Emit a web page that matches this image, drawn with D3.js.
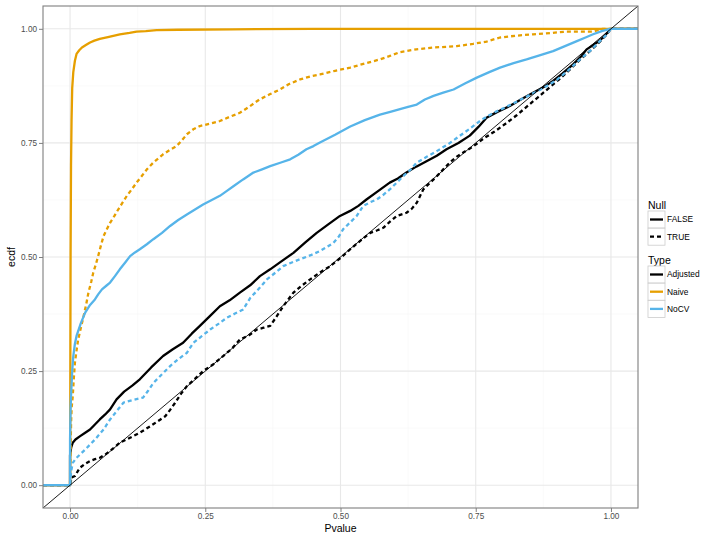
<!DOCTYPE html>
<html><head><meta charset="utf-8">
<script src="https://cdn.jsdelivr.net/npm/d3@7"></script>
<style>body{margin:0;background:#fff;font-family:"Liberation Sans",Arial,sans-serif;}</style>
</head><body>
<svg id="c" width="705" height="534"></svg>
<script>
// ---- data ----
const xTicks = [0, 0.25, 0.5, 0.75, 1];
const yTicks = [0, 0.25, 0.5, 0.75, 1];
const tickLabels = ["0.00", "0.25", "0.50", "0.75", "1.00"];
const nullLevels = ["FALSE", "TRUE"];
const typeLevels = ["Adjusted", "Naive", "NoCV"];

const adjustedFalse = [[0,0],[0,0.066],[0.002,0.082],[0.005,0.093],[0.01,0.1],[0.018,0.107],[0.028,0.115],[0.037,0.122],[0.046,0.133],[0.055,0.144],[0.065,0.155],[0.074,0.166],[0.086,0.188],[0.1,0.205],[0.115,0.218],[0.129,0.232],[0.15,0.258],[0.172,0.283],[0.19,0.298],[0.209,0.312],[0.225,0.332],[0.24,0.349],[0.258,0.37],[0.277,0.392],[0.295,0.405],[0.314,0.422],[0.333,0.438],[0.351,0.458],[0.37,0.473],[0.39,0.49],[0.413,0.509],[0.435,0.532],[0.456,0.553],[0.478,0.572],[0.499,0.59],[0.518,0.601],[0.533,0.612],[0.548,0.626],[0.57,0.645],[0.591,0.663],[0.606,0.672],[0.622,0.685],[0.64,0.698],[0.659,0.71],[0.678,0.722],[0.696,0.736],[0.718,0.75],[0.739,0.766],[0.755,0.785],[0.77,0.805],[0.79,0.818],[0.813,0.831],[0.835,0.846],[0.856,0.86],[0.875,0.872],[0.893,0.886],[0.91,0.902],[0.93,0.922],[0.945,0.94],[0.955,0.955],[0.968,0.965],[0.98,0.975],[0.99,0.987],[1,1]];

const adjustedTrue = [[0,0],[0.003,0.017],[0.009,0.02],[0.018,0.038],[0.028,0.047],[0.037,0.053],[0.046,0.057],[0.055,0.06],[0.065,0.067],[0.074,0.075],[0.083,0.084],[0.092,0.093],[0.111,0.104],[0.129,0.115],[0.148,0.129],[0.162,0.14],[0.176,0.151],[0.185,0.165],[0.194,0.18],[0.205,0.2],[0.216,0.217],[0.23,0.232],[0.246,0.25],[0.265,0.265],[0.283,0.283],[0.3,0.3],[0.314,0.319],[0.333,0.33],[0.345,0.341],[0.358,0.345],[0.37,0.349],[0.382,0.37],[0.394,0.392],[0.413,0.422],[0.428,0.437],[0.444,0.451],[0.462,0.466],[0.481,0.48],[0.5,0.498],[0.518,0.517],[0.537,0.536],[0.555,0.553],[0.567,0.558],[0.579,0.564],[0.592,0.578],[0.604,0.59],[0.622,0.597],[0.632,0.606],[0.641,0.619],[0.653,0.648],[0.665,0.662],[0.678,0.677],[0.69,0.692],[0.702,0.707],[0.715,0.72],[0.727,0.729],[0.745,0.742],[0.765,0.76],[0.785,0.775],[0.805,0.792],[0.825,0.81],[0.845,0.83],[0.865,0.85],[0.887,0.872],[0.905,0.89],[0.925,0.912],[0.945,0.935],[0.962,0.952],[0.978,0.97],[0.99,0.985],[1,1]];

const naiveFalse = [[0,0],[0.0003,0.1],[0.0006,0.3],[0.001,0.5],[0.0018,0.7],[0.0028,0.8],[0.004,0.87],[0.006,0.905],[0.009,0.93],[0.012,0.945],[0.017,0.953],[0.022,0.959],[0.03,0.965],[0.037,0.97],[0.045,0.974],[0.055,0.978],[0.07,0.982],[0.092,0.988],[0.11,0.991],[0.123,0.994],[0.14,0.995],[0.16,0.997],[0.2,0.998],[0.3,0.999],[0.45,1]];

const naiveTrue = [[0,0],[0.001,0.08],[0.002,0.14],[0.003,0.17],[0.005,0.195],[0.007,0.235],[0.009,0.268],[0.012,0.295],[0.015,0.319],[0.02,0.345],[0.025,0.37],[0.03,0.397],[0.034,0.422],[0.039,0.445],[0.043,0.466],[0.048,0.485],[0.052,0.502],[0.057,0.525],[0.062,0.546],[0.068,0.561],[0.074,0.575],[0.082,0.59],[0.089,0.604],[0.097,0.619],[0.105,0.634],[0.114,0.648],[0.123,0.663],[0.133,0.678],[0.142,0.692],[0.154,0.707],[0.163,0.716],[0.172,0.725],[0.185,0.735],[0.197,0.743],[0.207,0.756],[0.216,0.769],[0.228,0.78],[0.24,0.787],[0.258,0.792],[0.277,0.798],[0.295,0.807],[0.314,0.816],[0.332,0.83],[0.35,0.845],[0.37,0.857],[0.388,0.867],[0.405,0.879],[0.425,0.889],[0.445,0.896],[0.462,0.9],[0.49,0.908],[0.518,0.915],[0.545,0.924],[0.573,0.933],[0.59,0.94],[0.61,0.949],[0.64,0.955],[0.672,0.959],[0.715,0.962],[0.745,0.967],[0.77,0.972],[0.795,0.981],[0.825,0.985],[0.856,0.988],[0.89,0.991],[0.918,0.994],[0.945,0.994],[0.967,0.994],[0.985,1]];

const nocvFalse = [[0,0],[0,0.1],[0.001,0.17],[0.002,0.2],[0.004,0.25],[0.006,0.283],[0.009,0.31],[0.012,0.327],[0.02,0.355],[0.028,0.378],[0.037,0.395],[0.046,0.407],[0.052,0.418],[0.059,0.429],[0.067,0.437],[0.074,0.444],[0.083,0.458],[0.092,0.473],[0.102,0.488],[0.111,0.502],[0.12,0.51],[0.129,0.517],[0.142,0.528],[0.154,0.539],[0.17,0.553],[0.185,0.568],[0.2,0.581],[0.216,0.593],[0.231,0.604],[0.246,0.615],[0.262,0.625],[0.277,0.634],[0.29,0.645],[0.302,0.655],[0.32,0.67],[0.339,0.685],[0.355,0.692],[0.37,0.699],[0.39,0.707],[0.407,0.714],[0.422,0.724],[0.437,0.736],[0.45,0.743],[0.462,0.751],[0.49,0.768],[0.518,0.786],[0.545,0.8],[0.573,0.812],[0.592,0.818],[0.61,0.824],[0.625,0.829],[0.641,0.834],[0.656,0.845],[0.672,0.853],[0.69,0.86],[0.709,0.867],[0.73,0.88],[0.752,0.893],[0.775,0.905],[0.795,0.915],[0.82,0.925],[0.844,0.933],[0.868,0.942],[0.893,0.951],[0.915,0.962],[0.937,0.973],[0.953,0.981],[0.967,0.988],[0.983,0.995],[0.998,1]];

const nocvTrue = [[0,0],[0.002,0.03],[0.005,0.049],[0.012,0.06],[0.02,0.069],[0.028,0.078],[0.037,0.089],[0.046,0.1],[0.054,0.111],[0.062,0.122],[0.068,0.133],[0.074,0.144],[0.08,0.153],[0.086,0.162],[0.099,0.181],[0.117,0.187],[0.135,0.192],[0.145,0.208],[0.154,0.224],[0.17,0.243],[0.185,0.261],[0.2,0.276],[0.216,0.29],[0.228,0.312],[0.244,0.327],[0.259,0.341],[0.275,0.354],[0.29,0.367],[0.305,0.376],[0.32,0.385],[0.333,0.41],[0.351,0.433],[0.364,0.451],[0.38,0.466],[0.394,0.48],[0.41,0.488],[0.425,0.495],[0.445,0.504],[0.462,0.513],[0.475,0.522],[0.487,0.531],[0.497,0.545],[0.505,0.561],[0.518,0.576],[0.53,0.59],[0.542,0.612],[0.555,0.62],[0.567,0.626],[0.58,0.637],[0.591,0.648],[0.604,0.663],[0.616,0.677],[0.63,0.692],[0.641,0.707],[0.66,0.72],[0.678,0.732],[0.7,0.748],[0.72,0.765],[0.74,0.782],[0.76,0.8],[0.783,0.816],[0.805,0.828],[0.83,0.843],[0.855,0.858],[0.875,0.87],[0.9,0.888],[0.92,0.908],[0.94,0.93],[0.96,0.95],[0.975,0.968],[0.99,0.985],[1,1]];

const series = [
  {type:"Adjusted", nul:"FALSE", values:adjustedFalse},
  {type:"Adjusted", nul:"TRUE", values:adjustedTrue},
  {type:"Naive", nul:"FALSE", values:naiveFalse},
  {type:"Naive", nul:"TRUE", values:naiveTrue},
  {type:"NoCV", nul:"FALSE", values:nocvFalse},
  {type:"NoCV", nul:"TRUE", values:nocvTrue}
];

// ---- chart ----
const svg = d3.select("#c");
const P = {l:43, r:638, t:6, b:508};
const x = d3.scaleLinear().domain([-0.05, 1.05]).range([P.l, P.r]);
const y = d3.scaleLinear().domain([-0.05, 1.05]).range([P.b, P.t]);
const color = d3.scaleOrdinal().domain(typeLevels).range(["#000000", "#E69F00", "#56B4E9"]);
const dash = d3.scaleOrdinal().domain(nullLevels).range(["none", "4,3"]);

svg.append("rect").attr("x",P.l).attr("y",P.t).attr("width",P.r-P.l).attr("height",P.b-P.t).attr("fill","#fff");

const minor = [0.125, 0.375, 0.625, 0.875];
const g = svg.append("g");
g.selectAll(".mx").data(minor).join("line").attr("x1",d=>x(d)).attr("x2",d=>x(d)).attr("y1",P.t).attr("y2",P.b).attr("stroke","#f7f7f7").attr("stroke-width",0.6);
g.selectAll(".my").data(minor).join("line").attr("y1",d=>y(d)).attr("y2",d=>y(d)).attr("x1",P.l).attr("x2",P.r).attr("stroke","#f7f7f7").attr("stroke-width",0.6);
g.selectAll(".gx").data(xTicks).join("line").attr("x1",d=>x(d)).attr("x2",d=>x(d)).attr("y1",P.t).attr("y2",P.b).attr("stroke","#e8e8e8").attr("stroke-width",1.1);
g.selectAll(".gy").data(yTicks).join("line").attr("y1",d=>y(d)).attr("y2",d=>y(d)).attr("x1",P.l).attr("x2",P.r).attr("stroke","#e8e8e8").attr("stroke-width",1.1);

svg.append("clipPath").attr("id","clip").append("rect").attr("x",P.l).attr("y",P.t).attr("width",P.r-P.l).attr("height",P.b-P.t);

const line = d3.line().x(d=>x(d[0])).y(d=>y(d[1]));
const lg = svg.append("g").attr("clip-path","url(#clip)");
series.forEach(s => {
  const pts = [[-0.05,0]].concat(s.values, [[1.05,1]]);
  lg.append("path").datum(pts).attr("d",line).attr("fill","none")
    .attr("stroke",color(s.type)).attr("stroke-width",2.3)
    .attr("stroke-dasharray",dash(s.nul)).attr("stroke-linejoin","round");
});
lg.append("line").attr("x1",x(-0.05)).attr("y1",y(-0.05)).attr("x2",x(1.05)).attr("y2",y(1.05)).attr("stroke","#000").attr("stroke-width",0.9);

svg.append("rect").attr("x",P.l).attr("y",P.t).attr("width",P.r-P.l).attr("height",P.b-P.t).attr("fill","none").attr("stroke","#7f7f7f").attr("stroke-width",1.1);

// axes
const ax = d3.axisBottom(x).tickValues(xTicks).tickFormat((d,i)=>tickLabels[i]).tickSize(4).tickPadding(1.5);
const ay = d3.axisLeft(y).tickValues(yTicks).tickFormat((d,i)=>tickLabels[i]).tickSize(4).tickPadding(2);
const gxA = svg.append("g").attr("transform",`translate(0,${P.b})`).call(ax);
const gyA = svg.append("g").attr("transform",`translate(${P.l},0)`).call(ay);
[gxA, gyA].forEach(a => {
  a.select(".domain").remove();
  a.selectAll(".tick line").attr("stroke","#7f7f7f");
  a.selectAll("text").attr("fill","#4d4d4d").style("font-size","8.2px").style("font-family","'Liberation Sans',Arial,sans-serif");
});

svg.append("text").attr("x",(x(-0.05)+x(1.05))/2).attr("y",532).attr("text-anchor","middle").style("font-size","10.5px").text("Pvalue");
svg.append("text").attr("transform",`translate(15,${(P.t+P.b)/2}) rotate(-90)`).attr("text-anchor","middle").style("font-size","10.5px").text("ecdf");

// legend
const L = svg.append("g");
function legend(title, levels, ty, colFn, dashFn) {
  L.append("text").attr("x",648).attr("y",ty).style("font-size","10.5px").text(title);
  levels.forEach((lv,i) => {
    const by = ty + 2 + i*17.2;
    L.append("rect").attr("x",648).attr("y",by).attr("width",17).attr("height",17).attr("fill","#fff").attr("stroke","#cccccc").attr("stroke-width",0.8);
    L.append("line").attr("x1",650).attr("x2",663).attr("y1",by+8.5).attr("y2",by+8.5)
      .attr("stroke",colFn(lv)).attr("stroke-width",2.3).attr("stroke-dasharray",dashFn(lv));
    L.append("text").attr("x",667).attr("y",by+8.5).attr("dy","0.35em").style("font-size","8.4px").text(lv);
  });
}
legend("Null", nullLevels, 209, ()=>"#000", lv=>dash(lv));
legend("Type", typeLevels, 264, lv=>color(lv), ()=>"none");
</script>
</body></html>
